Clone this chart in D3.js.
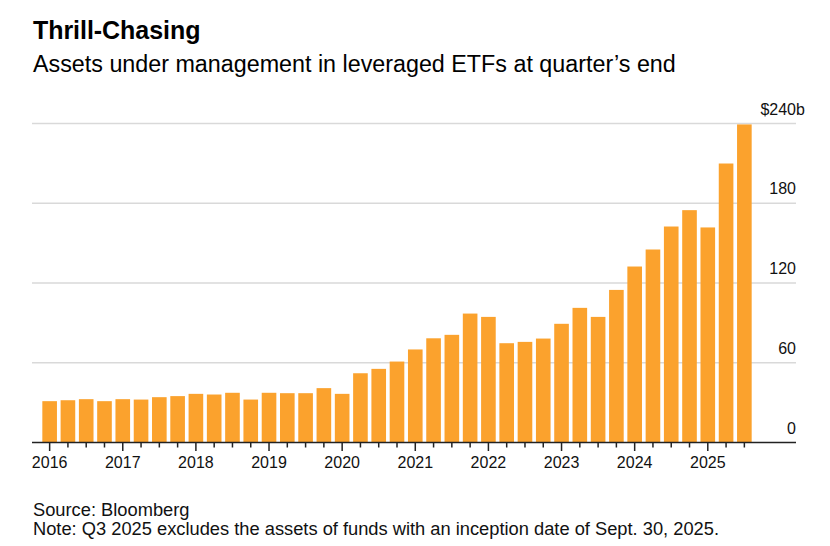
<!DOCTYPE html>
<html><head><meta charset="utf-8">
<script src="https://cdn.jsdelivr.net/npm/d3@7"></script>
<style>
body{margin:0;background:#fff;}
svg{display:block;font-family:"Liberation Sans",Arial,sans-serif;}
</style></head>
<body><svg id="c" width="830" height="546"></svg>
<script>
const quarters = [];
const years = [2016,2017,2018,2019,2020,2021,2022,2023,2024,2025];
years.forEach(y => [1,2,3,4].forEach(q => { if (!(y === 2025 && q === 4)) quarters.push(y + "Q" + q); }));
const values = [31.1,31.8,32.6,31.1, 32.6,32.3,34.1,34.9, 36.6,36.1,37.4,32.3, 37.4,37.1,37.1,40.9,
  36.6,52.1,55.4,60.9, 70.0,78.4,81.0,97.0, 94.5,74.7,75.7,78.2, 89.3,101.3,94.5,114.8,
  132.4,145.2,162.5,174.8, 161.8,209.9,239.3];
const yTicks = [0,60,120,180,240];

const svg = d3.select("#c");
const x = d3.scaleBand().domain(quarters).range([40.5,753.5]).paddingInner(0.2).paddingOuter(0.1);
const y = d3.scaleLinear().domain([0,240]).range([442.5,123.5]);
const gridL = 32, gridR = 796;

svg.append("text").attr("x",33).attr("y",39).attr("font-size",25).attr("font-weight","bold").attr("fill","#000").attr("letter-spacing","-0.05").text("Thrill-Chasing");
svg.append("text").attr("x",33).attr("y",72).attr("font-size",23.3).attr("fill","#000").text("Assets under management in leveraged ETFs at quarter\u2019s end");

svg.append("g").selectAll("line").data(yTicks.filter(d=>d>0)).join("line")
  .attr("x1",gridL).attr("x2",gridR).attr("y1",d=>y(d)).attr("y2",d=>y(d))
  .attr("stroke","#d9d9d9").attr("stroke-width",1.5);

svg.append("g").selectAll("rect").data(values).join("rect")
  .attr("x",(d,i)=>x(quarters[i])).attr("width",x.bandwidth())
  .attr("y",d=>y(d)).attr("height",d=>y(0)-y(d)).attr("fill","#fba22d");

svg.append("line").attr("x1",gridL).attr("x2",gridR).attr("y1",y(0)).attr("y2",y(0)).attr("stroke","#222").attr("stroke-width",1.5);

// y labels
svg.append("g").selectAll("text").data(yTicks).join("text")
  .attr("x",796).attr("y",d=>y(d)-9).attr("text-anchor","end").attr("font-size",16).attr("fill","#111")
  .text(d=>d===240? "$240" : d);
svg.append("text").attr("x",796).attr("y",y(240)-9).attr("font-size",16).attr("fill","#111").text("b");

// x ticks
svg.append("g").selectAll("line").data(quarters).join("line")
  .attr("x1",d=>x(d)+x.bandwidth()/2).attr("x2",d=>x(d)+x.bandwidth()/2)
  .attr("y1",y(0)).attr("y2",d=>d.endsWith("Q1")?451:447.5)
  .attr("stroke","#222").attr("stroke-width",1.5);
svg.append("g").selectAll("text").data(years).join("text")
  .attr("x",d=>x(d+"Q1")+x.bandwidth()/2).attr("y",468).attr("text-anchor","middle")
  .attr("font-size",16).attr("fill","#111").text(d=>d);

svg.append("text").attr("x",33).attr("y",515.5).attr("font-size",18.3).attr("fill","#111").text("Source: Bloomberg");
svg.append("text").attr("x",33).attr("y",534.5).attr("font-size",18.3).attr("fill","#111").text("Note: Q3 2025 excludes the assets of funds with an inception date of Sept. 30, 2025.");
</script></body></html>
